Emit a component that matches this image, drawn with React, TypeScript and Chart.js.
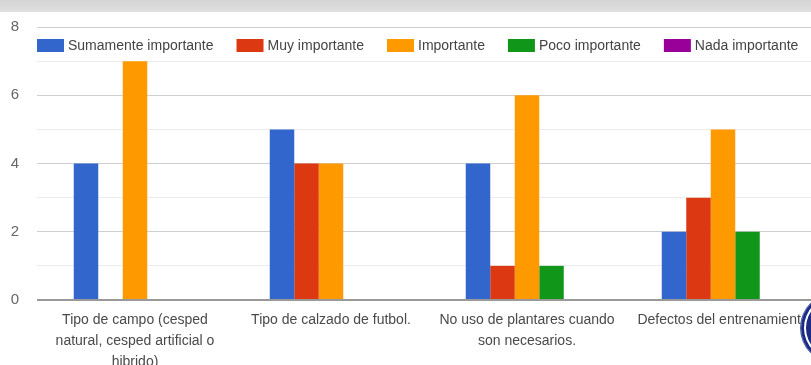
import React, { useEffect, useRef } from "react";
import { Chart, registerables } from "chart.js";

Chart.register(...registerables);

const categories: string[][] = [
  ["Tipo de campo (cesped", "natural, cesped artificial o", "hibrido)"],
  ["Tipo de calzado de futbol."],
  ["No uso de plantares cuando", "son necesarios."],
  ["Defectos del entrenamiento"],
];
const seriesNames = [
  "Sumamente importante",
  "Muy importante",
  "Importante",
  "Poco importante",
  "Nada importante",
];
const sumamenteImportante = [4, 5, 4, 2];
const muyImportante = [0, 4, 1, 3];
const importante = [7, 4, 6, 5];
const pocoImportante = [0, 0, 1, 2];
const nadaImportante = [0, 0, 0, 0];
const seriesColors = ["#3366CC", "#DC3912", "#FF9900", "#109618", "#990099"];
const yMin = 0;
const yMax = 8;

const FONT = "'Liberation Sans', Arial, sans-serif";

const legendPlugin = {
  id: "insideLegend",
  afterDraw(chart: any) {
    const { ctx, chartArea } = chart;
    ctx.save();
    ctx.font = `14px ${FONT}`;
    ctx.textBaseline = "middle";
    let x = chartArea.left;
    const y = chartArea.top + 12;
    chart.data.datasets.forEach((ds: any) => {
      ctx.fillStyle = ds.backgroundColor;
      ctx.fillRect(x, y, 27, 13);
      ctx.fillStyle = "#444";
      ctx.fillText(ds.label, x + 31, y + 7);
      x += 31 + ctx.measureText(ds.label).width + 23;
    });
    ctx.restore();
  },
};

export default function App() {
  const ref = useRef<HTMLCanvasElement | null>(null);

  useEffect(() => {
    if (!ref.current) return;
    const values = [
      sumamenteImportante,
      muyImportante,
      importante,
      pocoImportante,
      nadaImportante,
    ];
    const chart = new Chart(ref.current, {
      type: "bar",
      data: {
        labels: categories,
        datasets: seriesNames.map((name, i) => ({
          label: name,
          data: values[i],
          backgroundColor: seriesColors[i],
          borderWidth: 0,
          barPercentage: 1,
          categoryPercentage: 0.625,
        })),
      },
      options: {
        responsive: false,
        animation: false,
        layout: { padding: { top: 25, left: 0, right: 0, bottom: 0 } },
        plugins: {
          legend: { display: false },
          tooltip: { enabled: false },
          title: { display: false },
        },
        scales: {
          x: {
            grid: { display: false },
            border: { display: false },
            ticks: {
              autoSkip: false,
              maxRotation: 0,
              minRotation: 0,
              padding: 2,
              color: "#4a4a4a",
              font: { family: FONT, size: 14, lineHeight: 1.5 },
            },
            afterFit(scale: any) {
              scale.height = 65;
            },
          },
          y: {
            min: yMin,
            max: yMax,
            border: { display: false },
            grid: {
              drawTicks: false,
              color: (c: any) =>
                c.tick && c.tick.value === 0
                  ? "#999"
                  : c.tick && c.tick.value % 2 === 0
                  ? "#cfcfcf"
                  : "#ececec",
              lineWidth: (c: any) => (c.tick && c.tick.value === 0 ? 2 : 1),
            },
            ticks: {
              stepSize: 1,
              padding: 18,
              color: "#666",
              font: { family: FONT, size: 15 },
              callback: (v: any) => (Number(v) % 2 === 0 ? String(v) : ""),
            },
            afterFit(scale: any) {
              scale.width = 37;
            },
          },
        },
      },
      plugins: [legendPlugin],
    });
    return () => chart.destroy();
  }, []);

  return (
    <div
      style={{
        position: "fixed",
        left: 0,
        top: 0,
        width: 811,
        height: 365,
        overflow: "hidden",
        background: "#fff",
      }}
    >
      <canvas
        ref={ref}
        width={821}
        height={365}
        style={{ display: "block", width: 821, height: 365 }}
      />
      <div
        style={{
          position: "absolute",
          left: 0,
          top: 0,
          width: 811,
          height: 12,
          background: "linear-gradient(#d4d4d4, #e0e0e0)",
        }}
      />
      <div
        style={{
          position: "absolute",
          left: 800,
          top: 292,
          width: 70,
          height: 70,
          borderRadius: "50%",
          background: "#1c2c84",
          boxShadow: "inset 0 0 0 3px #1c2c84, inset 0 0 0 5px #ffffff",
          border: "1px solid #5566aa",
        }}
      />
    </div>
  );
}
